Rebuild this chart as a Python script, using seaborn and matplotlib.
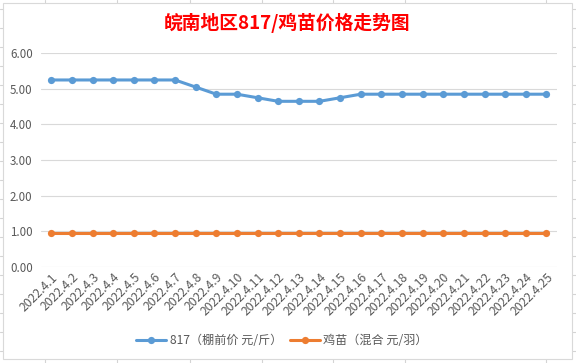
import numpy as np
import pandas as pd
import matplotlib
matplotlib.use('Agg')
import matplotlib.pyplot as plt
from matplotlib.lines import Line2D
from matplotlib.patches import Rectangle
import seaborn as sns

# data
dates = ['2022.4.1', '2022.4.2', '2022.4.3', '2022.4.4', '2022.4.5', '2022.4.6',
         '2022.4.7', '2022.4.8', '2022.4.9', '2022.4.10', '2022.4.11', '2022.4.12',
         '2022.4.13', '2022.4.14', '2022.4.15', '2022.4.16', '2022.4.17', '2022.4.18',
         '2022.4.19', '2022.4.20', '2022.4.21', '2022.4.22', '2022.4.23', '2022.4.24',
         '2022.4.25']
price_817 = [5.25, 5.25, 5.25, 5.25, 5.25, 5.25, 5.25, 5.05, 4.85, 4.85, 4.75, 4.65,
             4.65, 4.65, 4.75, 4.85, 4.85, 4.85, 4.85, 4.85, 4.85, 4.85, 4.85, 4.85,
             4.85]
price_chick = [0.95, 0.95, 0.95, 0.95, 0.95, 0.95, 0.95, 0.95, 0.95, 0.95, 0.95, 0.95,
               0.95, 0.95, 0.95, 0.95, 0.95, 0.95, 0.95, 0.95, 0.95, 0.95, 0.95, 0.95,
               0.95]
series_names = ['817（棚前价 元/斤）', '鸡苗（混合 元/羽）']
colors = ['#5B9BD5', '#ED7D31']
y_ticks = [0, 1, 2, 3, 4, 5, 6]
title = '皖南地区817/鸡苗价格走势图'

sns.set_theme(style='white')
plt.rcParams['font.family'] = ['Noto Sans CJK SC', 'DejaVu Sans']

W, H = 576, 363
fig = plt.figure(figsize=(W / 100, H / 100), dpi=100)
fig.patch.set_facecolor('white')


def fx(px):
    return px / W


def fy(py):
    return 1 - py / H


# spreadsheet grid behind the chart object
grid_col = '#D4D4D4'
for cx in [45, 117, 190, 262, 333, 405, 546]:
    fig.add_artist(Line2D([fx(cx), fx(cx)], [0, 1], color=grid_col, lw=0.8,
                          transform=fig.transFigure, zorder=-3))
for ry in np.arange(9, H, 19):
    fig.add_artist(Line2D([0, 1], [fy(ry), fy(ry)], color=grid_col, lw=0.8,
                          transform=fig.transFigure, zorder=-3))

# chart object frame
fig.add_artist(Rectangle((fx(3), fy(359)), fx(572) - fx(3), fy(3) - fy(359),
                         facecolor='white', edgecolor='#D9D9D9', lw=0.8,
                         transform=fig.transFigure, zorder=-1))

ax = fig.add_axes([fx(41), fy(266.7), fx(556.7) - fx(41), fy(53.3) - fy(266.7)])
ax.set_facecolor('none')

df = pd.DataFrame({
    'idx': list(range(len(dates))) * 2,
    'price': price_817 + price_chick,
    'series': [series_names[0]] * len(dates) + [series_names[1]] * len(dates),
})

sns.lineplot(data=df, x='idx', y='price', hue='series', palette=colors,
             marker='o', markersize=5.2, markeredgewidth=0, linewidth=2.2, ax=ax)

ax.set_xlim(-0.5, len(dates) - 0.5)
ax.set_ylim(0, 6)
ax.set_yticks(y_ticks)
ax.set_yticklabels([f'{v:.2f}' for v in y_ticks])
ax.set_xticks(range(len(dates)))
ax.set_xticklabels(dates, rotation=45, ha='right', va='top', rotation_mode='anchor')
ax.set_xlabel('')
ax.set_ylabel('')
ax.grid(axis='y', color='#D9D9D9', lw=0.8)
ax.grid(axis='x', visible=False)
for s in ax.spines.values():
    s.set_visible(False)
ax.tick_params(axis='y', length=0, pad=6, labelsize=8.3, labelcolor='#595959')
ax.tick_params(axis='x', length=0, pad=3, labelsize=8.8, labelcolor='#595959')

handles, labels = ax.get_legend_handles_labels()
ax.get_legend().remove()
leg = fig.legend(handles, labels, loc='center', bbox_to_anchor=(fx(282), fy(341)),
                 ncol=2, frameon=False, fontsize=8.7, handlelength=2.5,
                 handletextpad=0.3, columnspacing=0.6)
for t in leg.get_texts():
    t.set_color('#595959')

fig.text(fx(286.7), fy(23), title, color='#FF0000', fontsize=13.5, fontweight='bold',
         ha='center', va='center')

fig.savefig('out.png', dpi=100)
